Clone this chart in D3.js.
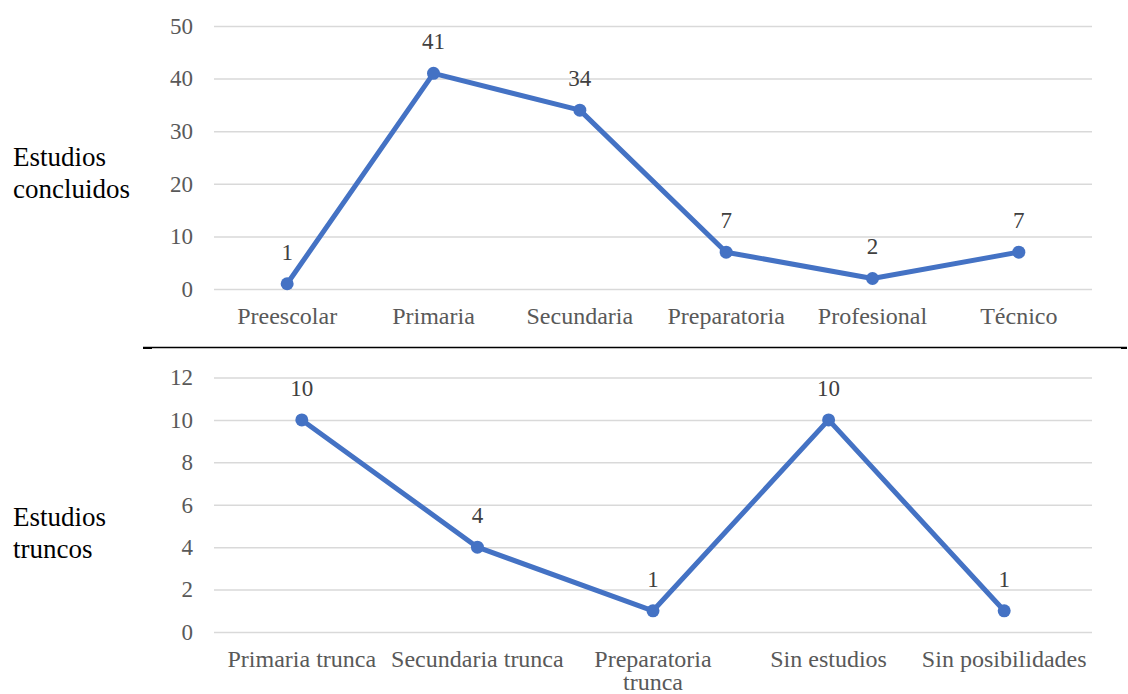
<!DOCTYPE html>
<html>
<head>
<meta charset="utf-8">
<script src="https://cdn.jsdelivr.net/npm/d3@7"></script>
<style>
  html, body { margin: 0; padding: 0; background: #fff; }
  svg text { font-family: "Liberation Serif", "Times New Roman", serif !important; }
</style>
</head>
<body>
<svg id="chart" width="1128" height="694"></svg>
<script>
// Panel 1: Estudios concluidos
const catsConcluidos = ["Preescolar", "Primaria", "Secundaria", "Preparatoria", "Profesional", "Técnico"];
const valsConcluidos = [1, 41, 34, 7, 2, 7];
const ticksConcluidos = [0, 10, 20, 30, 40, 50];
const titleConcluidos = ["Estudios", "concluidos"];

// Panel 2: Estudios truncos
const catsTruncos = [["Primaria trunca"], ["Secundaria trunca"], ["Preparatoria", "trunca"], ["Sin estudios"], ["Sin posibilidades"]];
const valsTruncos = [10, 4, 1, 10, 1];
const ticksTruncos = [0, 2, 4, 6, 8, 10, 12];
const titleTruncos = ["Estudios", "truncos"];

const svg = d3.select("#chart");
const blue = "#4472C4";

function panel(cfg) {
  const g = svg.append("g");
  const labels = cfg.cats.map(c => Array.isArray(c) ? c.join(" ") : c);
  const x = d3.scalePoint().domain(labels).range([cfg.x0, cfg.x1]).padding(0.5);
  const y = d3.scaleLinear().domain([0, d3.max(cfg.ticks)]).range([cfg.yBottom, cfg.yTop]);

  const yAxis = d3.axisLeft(y).tickValues(cfg.ticks).tickSize(-(cfg.x1 - cfg.x0)).tickPadding(21).tickFormat(d3.format("d"));
  const ya = g.append("g").attr("transform", `translate(${cfg.x0},0)`).call(yAxis);
  ya.attr("font-family", null).attr("font-size", null);
  ya.select(".domain").remove();
  ya.selectAll(".tick line").attr("stroke", "#d9d9d9").attr("stroke-width", 1.5);
  ya.selectAll(".tick text").attr("fill", "#595959").attr("font-size", 23);

  const xl = g.append("g");
  cfg.cats.forEach((c, i) => {
    const lines = Array.isArray(c) ? c : [c];
    lines.forEach((ln, j) => {
      xl.append("text")
        .attr("x", x(labels[i]))
        .attr("y", cfg.yBottom + 35 + j * 23)
        .attr("text-anchor", "middle")
        .attr("fill", "#595959")
        .attr("font-size", 24)
        .text(ln);
    });
  });

  const line = d3.line().x((d, i) => x(labels[i])).y(d => y(d));
  g.append("path").datum(cfg.vals)
    .attr("d", line)
    .attr("fill", "none")
    .attr("stroke", blue)
    .attr("stroke-width", 5)
    .attr("stroke-linejoin", "round");

  g.selectAll("circle.pt").data(cfg.vals).enter().append("circle")
    .attr("cx", (d, i) => x(labels[i]))
    .attr("cy", d => y(d))
    .attr("r", 6.5)
    .attr("fill", blue);

  g.selectAll("text.dl").data(cfg.vals).enter().append("text")
    .attr("x", (d, i) => x(labels[i]))
    .attr("y", d => y(d) - 24)
    .attr("text-anchor", "middle")
    .attr("fill", "#404040")
    .attr("font-size", 23)
    .text(d => d);

  cfg.title.forEach((ln, j) => {
    g.append("text")
      .attr("x", 13)
      .attr("y", cfg.titleY + j * 32)
      .attr("fill", "#000")
      .attr("font-size", 27)
      .text(ln);
  });
}

panel({
  cats: catsConcluidos, vals: valsConcluidos, ticks: ticksConcluidos, title: titleConcluidos,
  x0: 214, x1: 1092, yTop: 26, yBottom: 289, titleY: 166
});

panel({
  cats: catsTruncos, vals: valsTruncos, ticks: ticksTruncos, title: titleTruncos,
  x0: 214, x1: 1092, yTop: 377.5, yBottom: 632, titleY: 526
});

svg.append("line").attr("x1", 143).attr("x2", 1127).attr("y1", 347.5).attr("y2", 347.5)
  .attr("stroke", "#000").attr("stroke-width", 1.3);
svg.append("rect").attr("x", 143).attr("y", 347).attr("width", 9).attr("height", 2).attr("fill", "#000");
svg.append("rect").attr("x", 1121).attr("y", 347).attr("width", 6).attr("height", 2).attr("fill", "#000");
</script>
</body>
</html>
